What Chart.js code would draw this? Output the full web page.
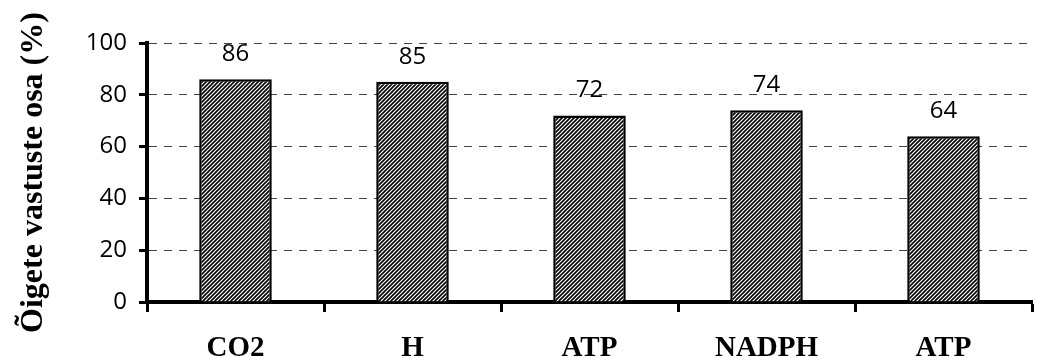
<!DOCTYPE html>
<html>
<head>
<meta charset="utf-8">
<script src="https://cdn.jsdelivr.net/npm/chart.js@4"></script>
<style>
  html, body { margin: 0; padding: 0; background: #fff; }
  #wrap { width: 1038px; height: 358px; }
</style>
</head>
<body>
<div id="wrap"><canvas id="chart" width="1038" height="358"></canvas></div>
<script>
const categories = ["CO2", "H", "ATP", "NADPH", "ATP"];
const shares = [86, 85, 72, 74, 64];
const yTicks = [0, 20, 40, 60, 80, 100];
const yTitle = "Õigete vastuste osa (%)";

// diagonal hatch like the original
function hatch() {
  const s = 4;
  const c = document.createElement("canvas");
  c.width = s; c.height = s;
  const g = c.getContext("2d");
  g.fillStyle = "#fff";
  g.fillRect(0, 0, s, s);
  g.strokeStyle = "#000";
  g.lineWidth = 1.6;
  g.beginPath();
  g.moveTo(-1, s + 1); g.lineTo(s + 1, -1);
  g.moveTo(-1, 1); g.lineTo(1, -1);
  g.moveTo(s - 1, s + 1); g.lineTo(s + 1, s - 1);
  g.stroke();
  return g.createPattern(c, "repeat");
}

const valueLabels = {
  id: "valueLabels",
  afterDatasetsDraw(chart) {
    const ctx = chart.ctx;
    const meta = chart.getDatasetMeta(0);
    ctx.save();
    ctx.font = "24px 'Open Sans'";
    ctx.fillStyle = "#000";
    ctx.textAlign = "center";
    ctx.textBaseline = "middle";
    meta.data.forEach((bar, i) => {
      ctx.fillText(shares[i], bar.x, bar.y - 25);
    });
    ctx.restore();
  }
};

new Chart(document.getElementById("chart"), {
  type: "bar",
  data: {
    labels: categories,
    datasets: [{
      data: shares,
      backgroundColor: hatch(),
      borderColor: "#000",
      borderWidth: 2.5,
      barPercentage: 0.41,
      categoryPercentage: 1
    }]
  },
  plugins: [valueLabels],
  options: {
    responsive: false,
    animation: false,
    layout: { padding: { top: 43, right: 6, left: 0, bottom: 0 } },
    plugins: { legend: { display: false }, tooltip: { enabled: false } },
    scales: {
      x: {
        afterFit: s => { s.height = 56; },
        border: { color: "#000", width: 4 },
        grid: { drawOnChartArea: false, drawTicks: true, tickLength: 10, tickWidth: 3, tickColor: "#000", offset: true },
        ticks: { color: "#000", padding: 19, font: { family: "'Liberation Serif'", size: 29, weight: "bold" } }
      },
      y: {
        min: 0, max: 100,
        afterFit: s => { s.width = 147; },
        afterBuildTicks: s => { s.ticks = yTicks.map(v => ({ value: v })); },
        border: { color: "#000", width: 4, dash: [8, 7] },
        grid: { color: "#444", lineWidth: 1, tickLength: 8, tickWidth: 3, tickColor: "#000", tickBorderDash: [] },
        ticks: { color: "#000", padding: 12, font: { family: "'Open Sans'", size: 24 } },
        title: {
          display: true, text: yTitle, color: "#000",
          padding: { top: 15, bottom: 0 },
          font: { family: "'Liberation Serif'", size: 32, weight: "bold" }
        }
      }
    }
  }
});
</script>
</body>
</html>
